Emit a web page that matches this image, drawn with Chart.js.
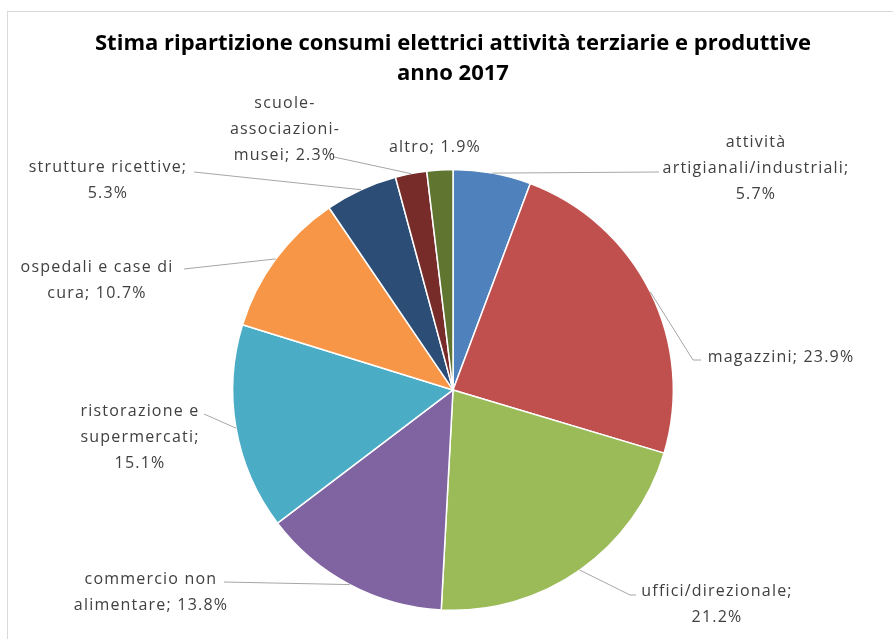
<!DOCTYPE html>
<html lang="it">
<head>
<meta charset="utf-8">
<title>Consumi elettrici 2017</title>
<script src="https://cdn.jsdelivr.net/npm/chart.js@4.4.0/dist/chart.umd.min.js"></script>
<style>
    html, body { margin: 0; padding: 0; background: #fff; }
    canvas { display: block; }
</style>
</head>
<body>
<canvas id="consumiChart" width="893" height="639"></canvas>
<script>
// Settori e quote (%) dei consumi elettrici
const settori = [
    'attività artigianali/industriali',
    'magazzini',
    'uffici/direzionale',
    'commercio non alimentare',
    'ristorazione e supermercati',
    'ospedali e case di cura',
    'strutture ricettive',
    'scuole-associazioni-musei',
    'altro'
];
const quote = [5.7, 23.9, 21.2, 13.8, 15.1, 10.7, 5.3, 2.3, 1.9];
const colori = ['#4f81bd', '#c0504d', '#9bbb59', '#8064a2', '#4bacc6', '#f79646', '#2c4d75', '#772c2a', '#5f7530'];
const titolo = ['Stima ripartizione consumi elettrici attività terziarie e produttive', 'anno 2017'];

// Posizione etichette: centro del testo (x, y prima riga), larghezza massima riga, punti della linea guida
const posEtichette = [
    { x: 756, y: 142, w: 210, guida: [[659, 172]] },
    { x: 781, y: 357, w: 300, guida: [[693, 360], [701, 360]] },
    { x: 717, y: 591, w: 190, guida: [[630, 595], [636, 595]] },
    { x: 151, y: 579, w: 190, guida: [[224, 582]] },
    { x: 140, y: 411, w: 150, guida: [[204, 414]] },
    { x: 97,  y: 267, w: 190, guida: [[184, 269]] },
    { x: 108, y: 167, w: 200, guida: [[194, 172]] },
    { x: 285, y: 103, w: 130, guida: [[334, 157]] },
    { x: 435, y: 147, w: 300, guida: null }
];

const FONT_ETICHETTE = '16px "Open Sans", sans-serif';
const INTERLINEA = 26;

// Spezza il testo dopo spazi e trattini, come fa Excel nelle etichette
function aCapo(ctx, testo, larghezza) {
    const pezzi = testo.match(/[^ \-]+[ \-]?/g) || [];
    const righe = [];
    let riga = '';
    pezzi.forEach(p => {
        const prova = riga + p;
        if (riga && ctx.measureText(prova.trimEnd()).width > larghezza) {
            righe.push(riga.trimEnd());
            riga = p;
        } else {
            riga = prova;
        }
    });
    if (riga) righe.push(riga.trimEnd());
    return righe;
}

// Cornice grigia chiara attorno al grafico
const cornice = {
    id: 'cornice',
    beforeDraw(chart) {
        const ctx = chart.ctx;
        ctx.save();
        ctx.strokeStyle = '#d9d9d9';
        ctx.lineWidth = 1;
        ctx.strokeRect(7.5, 11.5, chart.width, chart.height);
        ctx.restore();
    }
};

// Etichette "categoria; valore%" con linee guida verso il centro dell'arco
const etichette = {
    id: 'etichette',
    afterDatasetsDraw(chart) {
        const ctx = chart.ctx;
        const meta = chart.getDatasetMeta(0);
        ctx.save();
        ctx.font = FONT_ETICHETTE;
        ctx.letterSpacing = '1.2px';
        meta.data.forEach((arc, i) => {
            const p = posEtichette[i];
            const { x, y, startAngle, endAngle, outerRadius } = arc.getProps(['x', 'y', 'startAngle', 'endAngle', 'outerRadius'], true);
            const mid = (startAngle + endAngle) / 2;
            const ax = x + Math.cos(mid) * outerRadius;
            const ay = y + Math.sin(mid) * outerRadius;

            if (p.guida) {
                ctx.strokeStyle = '#a6a6a6';
                ctx.lineWidth = 1;
                ctx.beginPath();
                ctx.moveTo(ax, ay);
                p.guida.forEach(pt => ctx.lineTo(pt[0], pt[1]));
                ctx.stroke();
            }

            const testo = settori[i] + '; ' + quote[i].toFixed(1) + '%';
            const righe = aCapo(ctx, testo, p.w);
            ctx.fillStyle = '#404040';
            ctx.textAlign = 'center';
            ctx.textBaseline = 'middle';
            righe.forEach((r, k) => ctx.fillText(r, p.x, p.y + k * INTERLINEA));
        });
        ctx.restore();
    }
};

new Chart(document.getElementById('consumiChart').getContext('2d'), {
    type: 'pie',
    data: {
        labels: settori,
        datasets: [{
            data: quote,
            backgroundColor: colori,
            borderColor: '#ffffff',
            borderWidth: 1.5
        }]
    },
    options: {
        responsive: false,
        devicePixelRatio: 1,
        animation: false,
        layout: {
            // area larga quanto la tela, centro della torta a x = 453
            padding: { left: 13, right: 0, top: 0, bottom: 28 }
        },
        plugins: {
            legend: { display: false },
            tooltip: { enabled: false },
            title: {
                display: true,
                text: titolo,
                color: '#000000',
                font: { family: '"Open Sans", sans-serif', size: 22, weight: 'bold', lineHeight: 1.36 },
                padding: { top: 29, bottom: 80 }
            }
        }
    },
    plugins: [cornice, etichette]
});
</script>
</body>
</html>
